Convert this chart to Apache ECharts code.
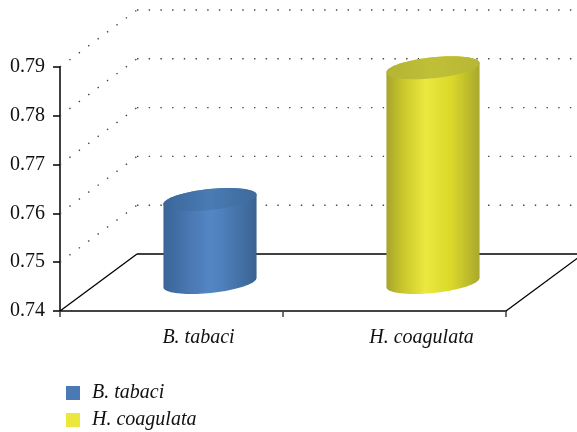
<!DOCTYPE html>
<html>
<head>
<meta charset="utf-8">
<script src="https://cdn.jsdelivr.net/npm/echarts@6/dist/echarts.min.js"></script>
<style>html,body{margin:0;padding:0;background:#fff}#c{width:577px;height:432px}</style>
</head>
<body>
<div id="c"></div>
<script>
// ---- data ----
const categories = ['B. tabaci', 'H. coagulata'];
const values = [0.757, 0.784];
const yTicks = [0.74, 0.75, 0.76, 0.77, 0.78, 0.79];
const yMin = 0.74, yMax = 0.79, yStep = 0.01;

// ---- styling ----
const DX = 77, DY = -57; // depth offset of the 3D box
const FONT = 'Liberation Serif';
const palette = [
  { legend: '#4a7ab5',
    body: [[0,'#3a6598'],[0.12,'#3f6ca2'],[0.2,'#4672aa'],[0.5,'#5386c4'],[0.62,'#4f81bd'],[0.85,'#426fa3'],[1,'#3a6290']],
    cap: [[0,'#3b679b'],[0.5,'#4a7bb3'],[1,'#3e6a9c']] },
  { legend: '#ebe73c',
    body: [[0,'#a6a52e'],[0.18,'#c9c82a'],[0.42,'#ece840'],[0.7,'#dad829'],[1,'#a9a82e']],
    cap: [[0,'#b5b434'],[0.5,'#c0bf38'],[1,'#b8b735']] }
];

function grad(stops){
  return {type:'linear', x:0, y:0, x2:1, y2:0,
    colorStops: stops.map(s => ({offset:s[0], color:s[1]}))};
}

function ellipsePts(cx, cy, rx, ry, th, t0, t1, n){
  const pts = [];
  for (let i = 0; i <= n; i++){
    const t = t0 + (t1 - t0) * i / n;
    const x = cx + rx*Math.cos(t)*Math.cos(th) - ry*Math.sin(t)*Math.sin(th);
    const y = cy + rx*Math.cos(t)*Math.sin(th) + ry*Math.sin(t)*Math.cos(th);
    pts.push([x, y]);
  }
  return pts;
}

function renderFrame(params, api){
  const v = api.value(1);
  const cs = params.coordSys;
  const y = api.coord([0, v])[1];
  const x0 = cs.x, x1 = cs.x + cs.width;
  const floor = Math.abs(v - yMin) < 1e-9;
  const dot = {stroke:'#444', lineWidth:1.4, lineDash:[1.4, 10.3], fill:null};
  const solid = {stroke:'#000', lineWidth:1.3, fill:null};
  const st = floor ? solid : dot;
  const ch = [
    {type:'line', shape:{x1:x0+DX, y1:y+DY, x2:x1+DX, y2:y+DY}, style:st},
    {type:'line', shape:{x1:x0, y1:y, x2:x0+DX, y2:y+DY}, style:st}
  ];
  if (floor) ch.push({type:'line', shape:{x1:x1, y1:y, x2:x1+DX, y2:y+DY}, style:solid});
  return {type:'group', children:ch};
}

function makeCyl(k){
  return function(params, api){
    const cat = api.value(0), v = api.value(1);
    const top = api.coord([cat, v]);
    const base = api.coord([cat, yMin]);
    const bw = api.size([1, 0])[0];
    const rx = bw * 0.21, ry = 10.5, th = -6 * Math.PI / 180;
    const cx = top[0] + DX/2;
    const cyT = top[1] + DY/2, cyB = base[1] + DY/2;
    const bodyPts = ellipsePts(cx, cyB, rx, ry, th, 0, Math.PI, 40)
      .concat(ellipsePts(cx, cyT, rx, ry, th, Math.PI, 2*Math.PI, 40));
    const capPts = ellipsePts(cx, cyT, rx, ry, th, 0, 2*Math.PI, 80);
    return {type:'group', children:[
      {type:'polygon', shape:{points:bodyPts}, style:{fill:grad(palette[k].body)}},
      {type:'polygon', shape:{points:capPts}, style:{fill:grad(palette[k].cap)}}
    ]};
  };
}

const legendText = {fontFamily:FONT, fontStyle:'italic', fontSize:20, color:'#111', padding:[0,0,0,7]};
const chart = echarts.init(document.getElementById('c'), null, {renderer:'canvas'});
chart.setOption({
  animation:false,
  backgroundColor:'#fff',
  grid:{left:60, right:71, top:67, bottom:121, containLabel:false},
  legend:[
    {data:[categories[0]], left:66, top:383, padding:0, icon:'rect', itemWidth:14, itemHeight:14, textStyle:legendText},
    {data:[categories[1]], left:66, top:410, padding:0, icon:'rect', itemWidth:14, itemHeight:14, textStyle:legendText}
  ],
  xAxis:{
    type:'category', data:categories, boundaryGap:true,
    axisLine:{lineStyle:{color:'#444', width:2}},
    axisTick:{show:true, length:6, lineStyle:{color:'#444', width:1.5}},
    axisLabel:{fontFamily:FONT, fontStyle:'italic', fontSize:20, color:'#111', margin:17, padding:[0,0,0,54]},
    splitLine:{show:false}
  },
  yAxis:{
    type:'value', min:yMin, max:yMax, interval:yStep,
    axisLine:{show:true, lineStyle:{color:'#000', width:1.5}},
    axisTick:{show:true, length:7, lineStyle:{color:'#000', width:1.5}},
    axisLabel:{fontFamily:FONT, fontSize:20, color:'#111', margin:15, formatter:v => v.toFixed(2)},
    splitLine:{show:false}
  },
  series:[
    {type:'custom', name:'frame', silent:true, z:1, renderItem:renderFrame,
     data:yTicks.map(v => [0, v])},
    {type:'custom', name:categories[0], z:5, itemStyle:{color:palette[0].legend},
     renderItem:makeCyl(0), data:[[0, values[0]]]},
    {type:'custom', name:categories[1], z:5, itemStyle:{color:palette[1].legend},
     renderItem:makeCyl(1), data:[[1, values[1]]]}
  ]
});
</script>
</body>
</html>
